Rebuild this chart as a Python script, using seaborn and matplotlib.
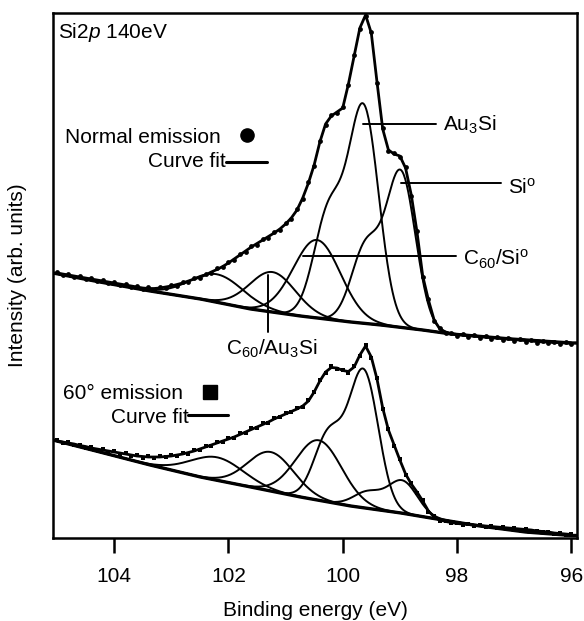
import numpy as np
import pandas as pd
import matplotlib
matplotlib.use("Agg")
import matplotlib.pyplot as plt
import seaborn as sns

sns.set_style("ticks")
plt.rcParams["font.family"] = ["Liberation Sans", "DejaVu Sans"]
plt.rcParams["mathtext.fontset"] = "custom"
plt.rcParams["mathtext.rm"] = "Liberation Sans"
plt.rcParams["mathtext.it"] = "Liberation Sans:italic"
plt.rcParams["mathtext.bf"] = "Liberation Sans:bold"
plt.rcParams["mathtext.sf"] = "Liberation Sans"
plt.rcParams["mathtext.default"] = "rm"
for key in ["axes.edgecolor", "text.color", "axes.labelcolor", "xtick.color", "ytick.color"]:
    plt.rcParams[key] = "black"

# ---------------- data ----------------
binding_energy = np.round(np.arange(105.0, 95.95, -0.1), 1)   # 105.0 ... 96.0 eV

normal_data = [266, 263, 264, 261, 262, 259, 260, 257, 258, 255,
               256, 253, 254, 251, 252, 249, 251, 248, 251, 250,
               253, 252, 256, 256, 260, 260, 264, 265, 270, 271,
               276, 278, 284, 286, 292, 293, 299, 300, 306, 308,
               315, 319, 329, 339, 356, 372, 397, 413, 423, 425,
               431, 453, 483, 509, 522, 506, 455, 410, 387, 385,
               381, 371, 342, 307, 261, 239, 217, 210, 205, 205,
               202, 204, 201, 203, 200, 202, 199, 201, 198, 200,
               197, 199, 196, 198, 195, 197, 195, 196, 194, 196,
               194]
normal_fit = [265, 264, 263, 262, 261, 260, 259, 258, 257, 256,
              255, 254, 253, 252, 251, 250, 249.5, 249.5, 250, 251,
              252, 253.5, 255, 257, 259, 261, 263, 266, 268.5, 271.5,
              275, 279, 283, 287, 291, 294.5, 298, 301.5, 305, 309,
              314, 320, 328, 340, 355, 373, 396, 414, 422, 426,
              430, 454, 482, 510, 523, 505, 456, 409, 388, 384,
              382, 370, 343, 306, 262, 238, 218, 209, 206, 204.5,
              203.5, 203, 202.5, 202, 201.5, 201, 200.5, 200, 199.5, 199,
              198.5, 198, 197.5, 197, 196.5, 196, 196, 195.5, 195.5, 195,
              195]

tilt_data = [98, 95, 96, 93, 93, 90, 91, 88, 89, 86,
             87, 84, 85, 82, 83, 80, 82, 80, 82, 81,
             83, 82, 85, 84, 88, 88, 92, 92, 96, 96,
             100, 100, 105, 105, 110, 110, 115, 115, 120, 121,
             125, 126, 130, 131, 138, 146, 158, 165, 172, 169,
             168, 165, 172, 182, 193, 180, 160, 129, 109, 92,
             79, 63, 55, 45, 38, 26, 22, 17, 17, 15,
             15, 13, 14, 12, 13, 11, 12, 10, 11, 9,
             10, 8, 9, 7, 7, 6, 6, 4, 5, 3,
             4]
tilt_fit = [97, 96, 95, 94, 92.5, 91.5, 90, 89, 88, 87,
            86, 85, 84, 83, 82, 81.5, 81, 81, 81, 81.5,
            82, 83, 84, 85.5, 87, 89, 91, 93, 95, 97,
            99, 101, 103.5, 106, 108.5, 111, 113.5, 116, 119, 121.5,
            124, 126.5, 129, 132, 137, 146, 157, 166, 170.5, 170,
            167.5, 166.5, 171, 183, 192, 181, 159, 130, 108, 93,
            78, 64, 54, 46, 37, 27, 21, 18, 16.5, 15.5,
            14.5, 14, 13.5, 13, 12.5, 12, 11.5, 11, 10.5, 10,
            9.5, 9, 8.5, 8, 7, 6.5, 6, 5, 4.5, 4,
            3.5]

# backgrounds (knots)
normal_bg_energy = [105.07, 104.25, 103.37, 102.49, 101.61, 100.74, 99.86, 99.33, 98.6, 98.1, 97.05, 96.0, 95.9]
normal_bg = [265, 256, 247, 239, 229, 222, 216, 213, 208, 204, 199, 195, 195]
tilt_bg_energy = [105.07, 104.25, 103.37, 102.49, 101.61, 100.74, 99.86, 98.98, 98.46, 97.6, 96.8, 96.0, 95.9]
tilt_bg = [98, 86, 73, 61, 51, 41, 32, 25, 20, 12, 6, 2.5, 2.5]

# fitted components: center (eV), height, FWHM (eV), spin-orbit partner ratio
normal_centers = [102.2, 101.23, 100.45, 99.63, 98.98]
normal_heights = [28, 40, 78, 212, 153]
normal_fwhm = [1.1, 0.95, 0.97, 0.62, 0.6]
normal_ratio = [0, 0, 0, 0.5, 0.5]

tilt_centers = [102.2, 101.26, 100.42, 99.63, 98.95]
tilt_heights = [23, 39, 60, 135, 32]
tilt_fwhm = [1.1, 0.95, 0.95, 0.6, 0.6]
tilt_ratio = [0, 0, 0, 0.5, 0.5]
SO_SPLIT = 0.61

# ---------------- figure ----------------
fig = plt.figure(figsize=(5.84, 6.21), dpi=100)
ax = fig.add_axes([53 / 584, 1 - 538 / 621, 524 / 584, 525 / 621])

fine = np.linspace(105.07, 95.9, 700)


def comp(E, c, h, w, r):
    s = 4 * np.log(2) / w ** 2
    return h * (np.exp(-s * (E - c) ** 2) + r * np.exp(-s * (E - c - SO_SPLIT) ** 2))


def draw_spectrum(data, fit, bg_e, bg, centers, heights, fwhm, ratio, marker):
    base = np.interp(fine[::-1], bg_e[::-1], bg[::-1])[::-1]
    for c, h, w, r in zip(centers, heights, fwhm, ratio):
        sns.lineplot(x=fine, y=base + comp(fine, c, h, w, r), color="black",
                     lw=1.4, estimator=None, sort=False, ax=ax)
    sns.lineplot(x=bg_e, y=bg, color="black", lw=2.4, estimator=None, sort=False, ax=ax)
    sns.scatterplot(x=binding_energy, y=data, marker=marker, s=12, color="black",
                    linewidth=0, ax=ax)
    sns.lineplot(x=binding_energy, y=fit, color="black", lw=2.0, estimator=None,
                 sort=False, ax=ax)


draw_spectrum(normal_data, normal_fit, normal_bg_energy, normal_bg,
              normal_centers, normal_heights, normal_fwhm, normal_ratio, "o")
draw_spectrum(tilt_data, tilt_fit, tilt_bg_energy, tilt_bg,
              tilt_centers, tilt_heights, tilt_fwhm, tilt_ratio, "s")

ax.set_xlim(105.07, 95.9)
ax.set_ylim(0, 525)
ax.set_xticks([104, 102, 100, 98, 96])
ax.set_xticklabels(["104", "102", "100", "98", "96"])
ax.set_yticks([])
ax.tick_params(axis="x", direction="out", length=11, width=1.8, pad=10, labelsize=15)
for sp in ax.spines.values():
    sp.set_linewidth(1.8)
    sp.set_visible(True)

ax.set_xlabel("Binding energy (eV)", fontsize=15)
ax.xaxis.label.set_va("baseline")
ax.xaxis.set_label_coords(0.5, (538 - 616) / 525)
ax.set_ylabel("Intensity (arb. units)", fontsize=15)
ax.yaxis.label.set_va("center")
ax.yaxis.set_label_coords((18 - 53) / 524, 0.5)

fs = 15
# annotations
ax.text(104.98, 500, r"Si2$\mathit{p}$ 140eV", fontsize=fs, ha="left", va="baseline")
ax.text(104.86, 395, "Normal emission", fontsize=fs, ha="left", va="baseline")
ax.plot([101.67], [403], marker="o", ms=9.5, color="black", ls="none")
ax.text(102.05, 371, "Curve fit", fontsize=fs, ha="right", va="baseline")
ax.plot([102.05, 101.33], [376, 376], color="black", lw=2.2)

ax.text(104.89, 139, "60° emission", fontsize=fs, ha="left", va="baseline")
ax.plot([102.32], [146], marker="s", ms=9.5, color="black", ls="none")
ax.text(102.70, 115, "Curve fit", fontsize=fs, ha="right", va="baseline")
ax.plot([102.70, 102.0], [123, 123], color="black", lw=2.2)

ax.plot([99.65, 98.37], [414, 414], color="black", lw=1.4)
ax.text(98.25, 407, r"Au$_3$Si", fontsize=fs, ha="left", va="baseline")
ax.plot([98.98, 97.23], [355, 355], color="black", lw=1.4)
ax.text(97.11, 344, r"Si$^{\rm o}$", fontsize=fs, ha="left", va="baseline")
ax.plot([100.70, 98.02], [282, 282], color="black", lw=1.4)
ax.text(97.90, 273, r"C$_{60}$/Si$^{\rm o}$", fontsize=fs, ha="left", va="baseline")
ax.plot([101.30, 101.30], [263, 206], color="black", lw=1.4)
ax.text(102.05, 183, r"C$_{60}$/Au$_3$Si", fontsize=fs, ha="left", va="baseline")

fig.savefig("out.png", dpi=100)
